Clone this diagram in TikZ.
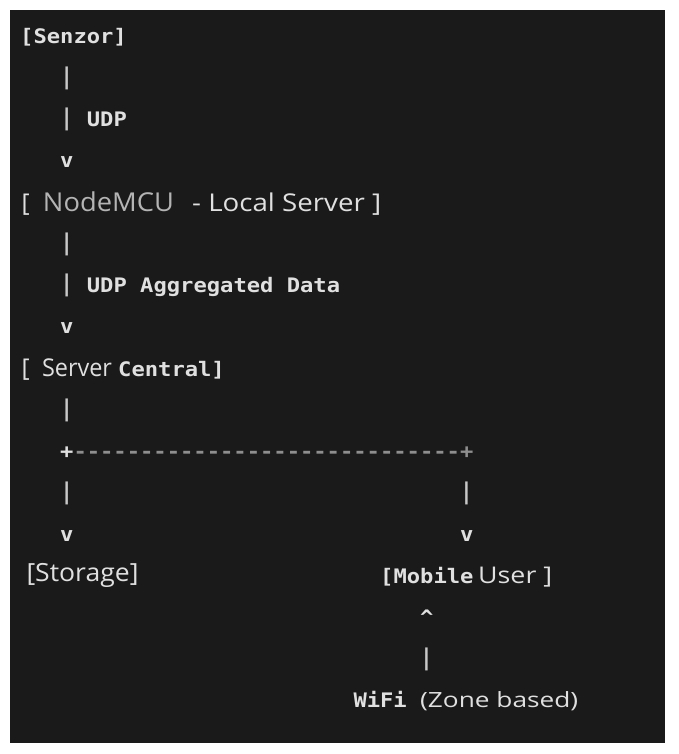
\documentclass[tikz,border=0pt]{standalone}
\usepackage{fontspec}
\usepackage{graphicx}
\newfontfamily\monofam[FakeStretch=1.107]{DejaVu Sans Mono Bold}
\newfontfamily\sansfam{Open Sans}
\definecolor{panelbg}{HTML}{1A1A1A}
\definecolor{txtcol}{HTML}{E0E0E0}
\definecolor{barcol}{HTML}{C8C8C8}
\definecolor{dashcol}{HTML}{8E8E8E}
\definecolor{dimcol}{HTML}{B4B4B4}
\newcommand{\vbarglyph}{\scalebox{1}[1.15]{|}}
\tikzset{
  mono/.style={font=\fontsize{20pt}{21pt}\selectfont\monofam, text=txtcol, inner sep=0pt, anchor=base west},
  vbarnode/.style={font=\fontsize{20pt}{21pt}\selectfont\monofam, text=barcol, inner sep=0pt, anchor=center},
  sans/.style={font=\fontsize{#1}{#1}\selectfont\sansfam, text=txtcol, inner sep=0pt, anchor=base west},
}
\begin{document}
\begin{tikzpicture}[x=1pt,y=-1pt]
\useasboundingbox (0,0) rectangle (679,754);
\fill[white] (0,0) rectangle (679,754);
\fill[panelbg] (10,10) rectangle (665,743);

% row 0
\node[mono] (senzor) at (20,43.3) {[Senzor]};
% rows 1-3
\node[vbarnode] (b1) at (66.7,78.3) {\vbarglyph};
\node[vbarnode] (b2) at (66.7,119.8) {\vbarglyph};
\node[mono] (udp1) at (86.7,126.3) {UDP};
\node[mono] (v1) at (60,167.8) {v};
% row 4
\node[sans=24.5pt] (lb1) at (21.5,211) {[};
\node[sans=26pt, text=dimcol] (nodemcu) at (42.7,211) {\resizebox{131pt}{\height}{NodeMCU}};
\node[sans=24.5pt] (local) at (192,211) {\resizebox{189pt}{\height}{- Local Server ]}};
% rows 5-7
\node[vbarnode] (b3) at (66.7,244.3) {\vbarglyph};
\node[vbarnode] (b4) at (66.7,285.8) {\vbarglyph};
\node[mono] (udp2) at (86.7,292.3) {UDP Aggregated Data};
\node[mono] (v2) at (60,333.8) {v};
% row 8
\node[sans=24.5pt] (lb2) at (21.5,376.5) {[};
\node[sans=24.5pt] (server) at (41.8,376.5) {\resizebox{70pt}{\height}{Server}};
\node[mono] (central) at (118,376.5) {Central]};
% rows 9-12
\node[vbarnode] (b5) at (66.7,410.3) {\vbarglyph};
\node[mono] (plusl) at (60,458.3) {+};
\node[mono, text=dashcol] (dashes) at (73.3,458.3) {-----------------------------+};
\node[vbarnode] (b6) at (66.7,493.3) {\vbarglyph};
\node[vbarnode] (b7) at (466.6,493.3) {\vbarglyph};
\node[mono] (v3) at (60,541.3) {v};
\node[mono] (v4) at (460,541.3) {v};
% row 13
\node[sans=25pt] (storage) at (26.3,581.7) {\resizebox{112pt}{\height}{[Storage]}};
\node[mono] (mobile) at (380,583) {[Mobile};
\node[sans=23pt] (user) at (478,583) {\resizebox{74pt}{\height}{User ]}};
% rows 14-16
\node[mono] (caret) at (420,624.3) {\^{}};
\node[vbarnode] (b8) at (426.6,659.3) {\vbarglyph};
\node[mono] (wifi) at (353.3,707.3) {WiFi};
\node[sans=21pt] (zone) at (420,707.3) {\resizebox{158pt}{\height}{(Zone based)}};
\end{tikzpicture}
\end{document}
